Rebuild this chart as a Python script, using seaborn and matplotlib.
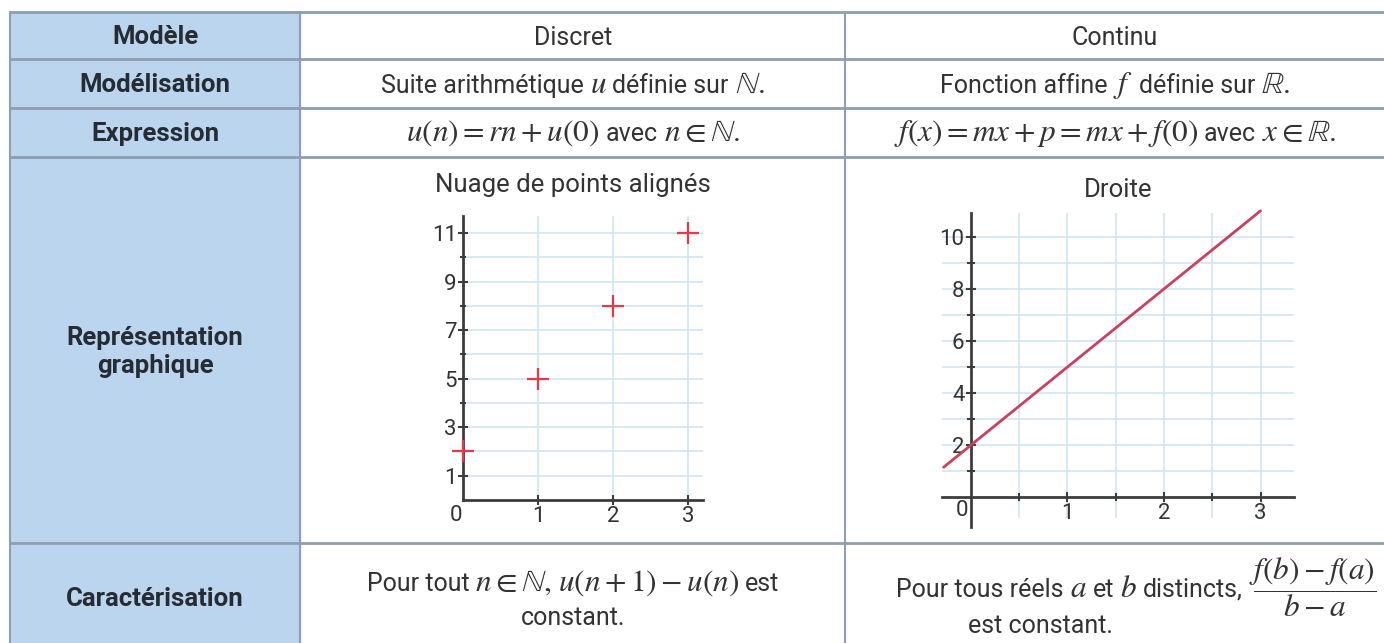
import numpy as np
import pandas as pd
import matplotlib
matplotlib.use("Agg")
import matplotlib.pyplot as plt
import seaborn as sns
from matplotlib.patches import Rectangle

sns.set_theme(style="white")
plt.rcParams['font.family'] = ['Roboto', 'DejaVu Sans']
plt.rcParams['mathtext.fontset'] = 'stix'

# donnees des deux graphiques
suite_n = [0, 1, 2, 3]
suite_u = [2, 5, 8, 11]
droite_x = [-0.28, 3.0]
droite_y = [1.15, 11.0]

# textes du tableau
entetes = ["Modèle", "Modélisation", "Expression", "Représentation\ngraphique", "Caractérisation"]
titres = ["Nuage de points alignés", "Droite"]

W, H = 1384, 643
bleu = '#bcd5ef'
bord = '#8e9db0'
txt = '#333333'
SANS = 18
MATH = 22.5

fig = plt.figure(figsize=(W / 100, H / 100), dpi=100)
tab = fig.add_axes([0, 0, 1, 1])
tab.set_xlim(0, W)
tab.set_ylim(H, 0)
tab.axis('off')
rend = fig.canvas.get_renderer()


# place une ligne faite de morceaux texte / formule, alignes sur la ligne de base
def ligne(x, y, morceaux, ha='center', gap=6):
    objs = []
    for s in morceaux:
        size = MATH if '$' in s else SANS
        objs.append(tab.text(0, y, s, fontsize=size, va='baseline', ha='left', color=txt))
    larg = [t.get_window_extent(rend).width for t in objs]
    total = sum(larg) + gap * (len(objs) - 1)
    x0 = x - total / 2 if ha == 'center' else x - total
    for t, w in zip(objs, larg):
        t.set_x(x0)
        x0 += w + gap


# geometrie du tableau (pixels)
xs = [10, 300, 845, 1400]
ys = [12, 59, 108, 157, 543, 660]

tab.add_patch(Rectangle((xs[0], ys[0]), xs[1] - xs[0], ys[-1] - ys[0], color=bleu, zorder=0))
for y in ys[:-1]:
    tab.plot([xs[0], xs[-1]], [y, y], color=bord, lw=2, zorder=1)
for x in xs[:-1]:
    tab.plot([x, x], [ys[0], ys[-1]], color=bord, lw=1.5, zorder=1)

cx1 = (xs[0] + xs[1]) / 2
cx2 = 573
cx3 = 1115
for i, lab in enumerate(entetes):
    cy = (ys[i] + ys[i + 1]) / 2 + 1
    if i == 3:
        cy = 352
    if i == 4:
        cy = 599
    tab.text(cx1, cy, lab, ha='center', va='center', fontsize=18.5, fontweight='bold',
             color='#262c33', linespacing=1.2)

b1, b2, b3 = 45, 93, 141
ligne(cx2, b1, ["Discret"])
ligne(cx3, b1, ["Continu"])
ligne(cx2, b2, ["Suite arithmétique", r"$u$", "définie sur", r"$\mathbb{N}.$"])
ligne(cx3, b2, ["Fonction affine", r"$f$", "définie sur", r"$\mathbb{R}.$"])
ligne(cx2, b3, [r"$u(n) = rn + u(0)$", "avec", r"$n \in \mathbb{N}.$"])
ligne(cx3, b3, [r"$f(x) = mx + p = mx + f(0)$", "avec", r"$x \in \mathbb{R}.$"])

ligne(573, 591, ["Pour tout", r"$n \in \mathbb{N},$", r"$u(n+1) - u(n)$", "est"])
ligne(573, 625, ["constant."])
ligne(1376, 597, ["Pour tous réels", r"$a$", "et", r"$b$", "distincts,",
                  r"$\dfrac{f(b) - f(a)}{b - a}$"], ha='right')
ligne(1040, 633, ["est constant."])

tab.text(573, 185, titres[0], ha='center', va='center', fontsize=18.5, color=txt)
tab.text(1118, 190, titres[1], ha='center', va='center', fontsize=18.5, color=txt)


def pos(left, right, top, bottom):
    return [left / W, 1 - bottom / H, (right - left) / W, (bottom - top) / H]


grille = '#cfe5f1'
axe = '#3d3d3d'

# graphique discret
ax1 = fig.add_axes(pos(437, 714, 204, 524))
ax1.set_facecolor('none')
ax1.set_xlim(-0.35, 3.35)
ax1.set_ylim(-0.99, 12.2)
ax1.hlines(range(1, 12), 0, 3.2, color=grille, lw=1.2, zorder=0)
ax1.vlines([1, 2, 3], 0, 11.7, color=grille, lw=1.2, zorder=0)
df1 = pd.DataFrame({'n': suite_n, 'u': suite_u})
sns.scatterplot(data=df1, x='n', y='u', ax=ax1, marker='+', s=260, color='#e8374b',
                linewidth=1.6, zorder=3)
for s in ['top', 'right']:
    ax1.spines[s].set_visible(False)
ax1.spines['left'].set_position(('data', 0))
ax1.spines['bottom'].set_position(('data', 0))
ax1.spines['left'].set_bounds(0, 11.7)
ax1.spines['bottom'].set_bounds(0, 3.2)
for s in ['left', 'bottom']:
    ax1.spines[s].set_color(axe)
    ax1.spines[s].set_linewidth(2)
ax1.set_xticks([1, 2, 3])
ax1.set_yticks([1, 3, 5, 7, 9, 11])
ax1.set_yticks([2, 4, 6, 8, 10], minor=True)
ax1.tick_params(which='major', direction='inout', length=7, width=1.5, color=axe,
                labelsize=16, labelcolor=txt, pad=1, left=True, bottom=True)
ax1.tick_params(which='minor', direction='inout', length=4, width=1.5, color=axe, left=True)
ax1.set_xlabel('')
ax1.set_ylabel('')
ax1.text(-0.09, -0.62, '0', ha='center', va='center', fontsize=16, color=txt)

# graphique continu
ax2 = fig.add_axes(pos(932, 1305, 203, 531))
ax2.set_facecolor('none')
ax2.set_xlim(-0.4, 3.46)
ax2.set_ylim(-1.3, 11.3)
ax2.hlines(range(1, 11), -0.3, 3.35, color=grille, lw=1.2, zorder=0)
ax2.vlines([0.5, 1, 1.5, 2, 2.5, 3], -0.8, 10.9, color=grille, lw=1.2, zorder=0)
df2 = pd.DataFrame({'x': droite_x, 'y': droite_y})
sns.lineplot(data=df2, x='x', y='y', ax=ax2, color='#c9415e', lw=2, zorder=3)
for s in ['top', 'right']:
    ax2.spines[s].set_visible(False)
ax2.spines['left'].set_position(('data', 0))
ax2.spines['bottom'].set_position(('data', 0))
ax2.spines['left'].set_bounds(-1.15, 10.9)
ax2.spines['bottom'].set_bounds(-0.3, 3.35)
for s in ['left', 'bottom']:
    ax2.spines[s].set_color(axe)
    ax2.spines[s].set_linewidth(2)
ax2.set_xticks([1, 2, 3])
ax2.set_xticks([0.5, 1.5, 2.5], minor=True)
ax2.set_yticks([2, 4, 6, 8, 10])
ax2.set_yticks([1, 3, 5, 7, 9], minor=True)
ax2.tick_params(which='major', direction='inout', length=7, width=1.5, color=axe,
                labelsize=16, labelcolor=txt, pad=1, left=True, bottom=True)
ax2.tick_params(which='minor', direction='inout', length=6, width=1.5, color=axe,
                left=True, bottom=True)
ax2.set_xlabel('')
ax2.set_ylabel('')
ax2.text(-0.09, -0.5, '0', ha='center', va='center', fontsize=16, color=txt)

fig.savefig('out.png', dpi=100)
